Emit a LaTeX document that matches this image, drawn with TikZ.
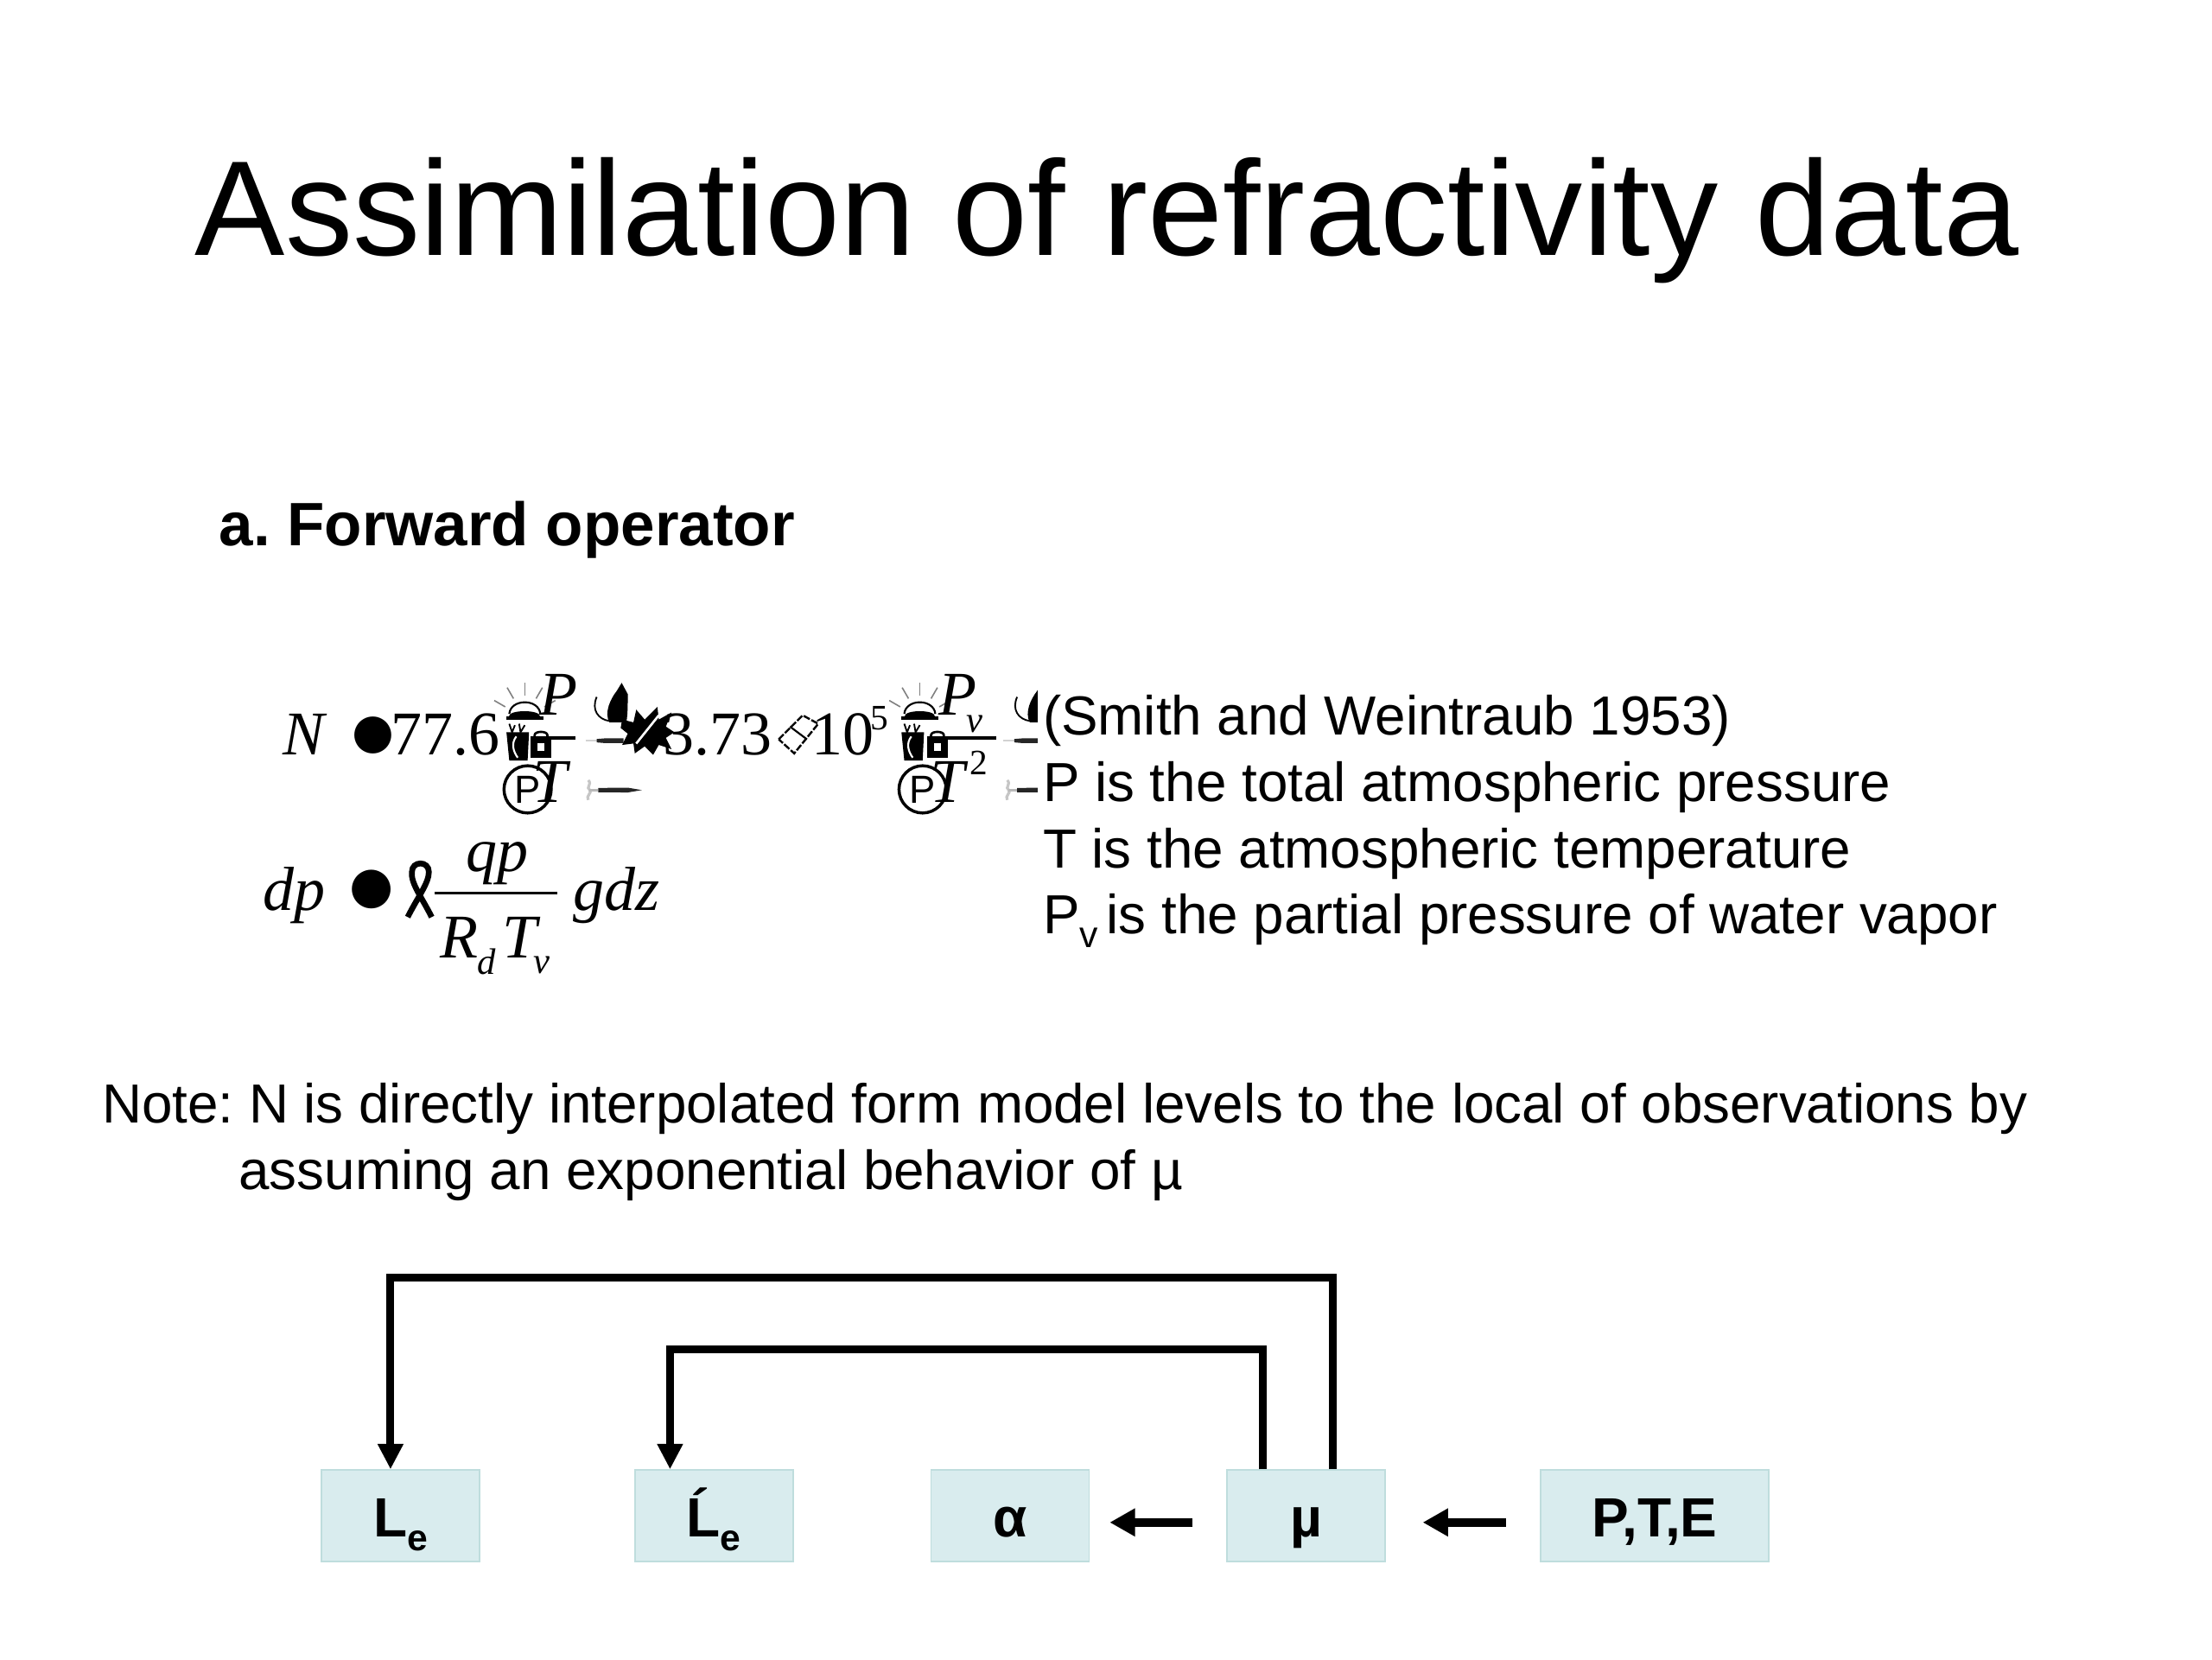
\documentclass[tikz,border=0pt]{standalone}
\usepackage{fontspec}
\usetikzlibrary{arrows.meta}
\setmainfont{Liberation Sans}
\newfontfamily\tms{Liberation Serif}
\newfontfamily\dej{DejaVu Sans}
\frenchspacing
\def\u{0.61224pt}
\definecolor{boxfill}{HTML}{D9ECEE}
\definecolor{boxline}{HTML}{BFDDDD}
\tikzset{
  txt/.style={anchor=base west,inner sep=0pt,font=\fontsize{23.9}{29}\selectfont},
  head/.style={anchor=base west,inner sep=0pt,font=\fontsize{58.6}{60}\selectfont},
  sect/.style={anchor=base west,inner sep=0pt,font=\bfseries\fontsize{26.6}{30}\selectfont},
  eq/.style={anchor=base west,inner sep=0pt,font=\tms\itshape\fontsize{27}{30}\selectfont},
  eqn/.style={anchor=base west,inner sep=0pt,font=\tms\fontsize{27}{30}\selectfont},
  eqs/.style={anchor=base west,inner sep=0pt,font=\tms\itshape\fontsize{16}{18}\selectfont},
  eqsn/.style={anchor=base west,inner sep=0pt,font=\tms\fontsize{15.5}{18}\selectfont},
  dot/.style={inner sep=0pt,font=\dej\fontsize{#1}{#1}\selectfont},
  ringp/.style={draw,circle,line width=1.3pt,minimum size=20.5pt,inner sep=0pt,font=\fontsize{17}{18}\selectfont},
  bar/.style={line width=1.3pt},
  var/.style={draw=boxline,fill=boxfill,line width=0.7pt,minimum height=39.8pt,inner sep=0pt,text height=21pt,text depth=3.2pt,font=\bfseries\fontsize{24}{26}\selectfont},
  flow/.style={line width=3.4pt,line join=miter,-{Triangle[length=11pt,width=10.5pt]}},
  feed/.style={line width=3.8pt,-{Triangle[length=11pt,width=11.5pt]}},
  bellpic/.pic={
    \fill (-13,-1) rectangle (13,1.5);
    \fill (-11,-1) .. controls (-11,-6) and (11,-6) .. (11,-1) -- cycle;
    \draw[line width=0.8pt] (-11,-3) .. controls (-10,-14) and (10,-14) .. (11,-3);
    \foreach \a in {30,60,90,120,150}{\draw[gray,line width=0.6pt] (0,0) ++(-\a:16) -- ++(-\a:9);}
  },
  cuppic/.pic={
    \fill (0,6) -- (16,6) -- (15,26) -- (2,26) -- cycle;
    \draw[white,line width=0.8pt] (7,9) .. controls (3,14) and (5,20) .. (8,24);
    \draw[line width=0.7pt] (2,0) -- (4,6) -- (6,1) (9,0) -- (10,6) -- (13,1);
  },
  lockpic/.pic={
    \fill (0,4) rectangle (15,18);
    \fill[white] (5,8) rectangle (10,13);
    \draw[line width=1pt] (3,4) -- (3,2) .. controls (3,-1) and (12,-1) .. (12,2) -- (12,4);
  },
  catpic/.pic={
    \fill (19.7,0) -- (24,8) .. controls (24,16) and (24,22) .. (23,28) -- (11,28) .. controls (7,21) and (12,11) .. (16,6) -- cycle;
    \draw[line width=0.7pt] (11,27) .. controls (3,26) and (-2,19) .. (2,10);
  },
  pinpic/.pic={
    \draw[gray!45,line width=1.2pt] (2,-7) .. controls (5,-4) and (0,-2) .. (3,0) .. controls (5,2) and (0,4) .. (2,7);
    \draw[gray!55,line width=1pt] (3,0) -- (9,0);
    \fill[black!85] (9,-1.5) -- (30,-1.7) -- (40,0) -- (30,1.7) -- (9,1.5) -- cycle;
  },
  dashpic/.pic={
    \draw[gray!35,line width=0.8pt] (0,0) -- (8,0);
    \fill[black!85] (8,-1.2) -- (14,-1.7) -- (27,-1.7) -- (27,1.7) -- (14,1.7) -- (8,1.2) -- cycle;
  }
}
\begin{document}
\begin{tikzpicture}[x=\u,y=-\u]
\useasboundingbox (0,0) rectangle (1568,1176);
\node[head] (title) at (138,181) {Assimilation of refractivity data};
\node[sect] (sec) at (155,387) {a. Forward operator};

% first equation
\node[eq] (N) at (200,535) {N};
\node[dot=21] (eq1) at (264.5,521.5) {●};
\node[eqn] (c1) at (277,535) {77.6};
\pic at (372,509) {bellpic};
\node[eq] (P1) at (382,507) {P};
\coordinate (b1a) at (376,523); \coordinate (b1b) at (408,523);
\draw[bar] (b1a) -- (b1b);
\pic at (359,513) {cuppic};
\pic at (376,519) {lockpic};
\node[eq] (T1) at (377,569) {T};
\node[ringp] (cp1) at (374,559.5) {P};
\pic at (421,484) {catpic};
\pic at (415,525) {dashpic};
\node[eqn] (c2) at (470,535) {3.73};
\fill (441,510) -- (449,512) -- (451,503) -- (457,510) -- (466,501) -- (467,510) -- (476,505) -- (472,515) -- (478,519) -- (472,523) -- (476,531) -- (467,528) -- (463,535) -- (457,529) -- (450,534) -- (449,527) -- (441,528) -- (445,520) -- (440,516) -- cycle;
\draw[white,line width=1pt] (451,527) -- (467,507);
\pic at (415,560) {pinpic};
\draw[line width=0.9pt,dash pattern=on 3pt off 0.8pt] (552,524) -- (569,507) -- (580,513) -- (563,534) -- cycle;
\draw[line width=0.8pt] (560,515) -- (572,524);
\node[eqn] (ten) at (575,535) {10};
\node[eqsn] (five) at (617,517) {5};

\pic at (652,509) {bellpic};
\node[eq] (P2) at (665,507) {P};
\node[eqs] (v1) at (685,519) {v};
\coordinate (b2a) at (657,523); \coordinate (b2b) at (706,523);
\draw[bar] (b2a) -- (b2b);
\pic at (639,513) {cuppic};
\pic at (657,519) {lockpic};
\node[eq] (T2) at (659,569) {T};
\node[eqsn] (two) at (687,549) {2};
\node[ringp] (cp2) at (654,559.5) {P};
\begin{scope}
\clip (700,470) rectangle (735.5,580);
\pic at (719,484) {catpic};
\pic at (711,525) {dashpic};
\pic at (712,560) {pinpic};
\end{scope}

% second equation
\node[eq] (dp) at (186,645) {dp};
\node[dot=22] (eq2) at (263.5,630.5) {●};
\draw[line width=2.5pt] (306,650) .. controls (299,636) and (291,626) .. (292,618) .. controls (292,610) and (304,610) .. (304,618) .. controls (304,626) and (296,636) .. (289,650);
\coordinate (b3a) at (308,633); \coordinate (b3b) at (395,633);
\draw[bar] (b3a) -- (b3b);
\node[eq] (qp) at (330,618) {qp};
\node[eq] (R) at (312,679) {R};
\node[eqs] (d) at (338,690.5) {d};
\node[eq] (Tv) at (356,679) {T};
\node[eqs] (v2) at (378,690) {v};
\node[eq] (gdz) at (406,645) {gdz};

% right column
\node[txt] (r1) at (739,521) {(Smith and Weintraub 1953)};
\node[txt] (r2) at (739,568) {P is the total atmospheric pressure};
\node[txt] (r3) at (739,615) {T is the atmospheric temperature};
\node[txt] (r4) at (739,662) {P\raisebox{-0.25em}{\fontsize{16}{18}\selectfont v}\hspace{3.7pt}is the partial pressure of water vapor};

% note
\node[txt] (n1) at (72,796) {Note: N is directly interpolated form model levels to the local of observations by};
\node[txt] (n2) at (169,843) {assuming an exponential behavior of µ};

% boxes
\node[var,minimum width=68.6pt] (Le) at (284,1074.5) {L\raisebox{-0.25em}{\fontsize{16}{18}\selectfont e}};
\node[var,minimum width=68.6pt] (Lp) at (506,1074.5) {Ĺ\raisebox{-0.25em}{\fontsize{16}{18}\selectfont e}};
\node[var,minimum width=68.6pt] (al) at (716,1074.5) {α};
\node[var,minimum width=68.6pt] (mu) at (926,1074.5) {µ};
\node[var,minimum width=99.2pt] (pte) at (1173,1074.5) {P,T,E};

% connectors
\draw[flow] ([xshift=11.6pt]mu.north) -- ++(0,-136) -| ([xshift=-4.4pt]Le.north);
\draw[flow] ([xshift=-19pt]mu.north) -- ++(0,-85) -| ([xshift=-19pt]Lp.north);
\draw[feed,shorten <=14.7pt,shorten >=8.6pt] ([yshift=-2.8pt]mu.west) -- ([yshift=-2.8pt]al.east);
\draw[feed,shorten <=14.7pt,shorten >=15.9pt] ([yshift=-2.8pt]pte.west) -- ([yshift=-2.8pt]mu.east);
\end{tikzpicture}
\end{document}
